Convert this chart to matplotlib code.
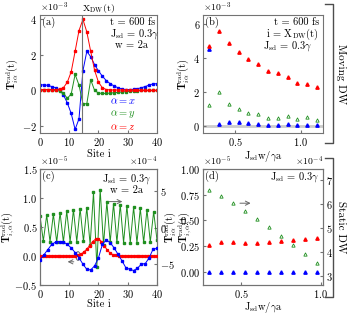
import numpy as np
import matplotlib
matplotlib.use("Agg")
import matplotlib.pyplot as plt
from matplotlib.lines import Line2D
from matplotlib.patches import Ellipse

plt.rcParams['font.family'] = ['cmr10', 'DejaVu Serif']
plt.rcParams['mathtext.fontset'] = 'cm'
plt.rcParams['axes.formatter.use_mathtext'] = True
plt.rcParams['font.size'] = 7.5
plt.rcParams['axes.edgecolor'] = '0.45'
plt.rcParams['xtick.direction'] = 'in'
plt.rcParams['ytick.direction'] = 'in'
plt.rcParams['xtick.major.size'] = 2.5
plt.rcParams['ytick.major.size'] = 2.5
plt.rcParams['xtick.major.pad'] = 2
plt.rcParams['ytick.major.pad'] = 2
plt.rcParams['xtick.color'] = '0.45'
plt.rcParams['ytick.color'] = '0.45'
plt.rcParams['xtick.labelcolor'] = 'black'
plt.rcParams['ytick.labelcolor'] = 'black'

# ---- panel (a): torque along the chain, moving DW (x 1e-3)
site_a = [0, 1.33, 2.67, 4, 5.33, 6.67, 8, 9.33, 10.67, 12, 13.33, 14.67, 16, 17.33,
          18.67, 20, 21.33, 22.67, 24, 25.33, 26.67, 28, 29.33, 30.67, 32, 33.33,
          34.67, 36, 37.33, 38.67, 40]
a_x = [0.3, 0.32, 0.28, 0.22, 0.15, 0.02, -0.25, -0.7, -1.3, -2.2, -1.6, 1.1, 2.2, 1.9,
       1.45, 1.1, 0.8, 0.55, 0.38, 0.25, 0.15, 0.08, 0.05, 0.05, 0.06, 0.1, 0.15, 0.22,
       0.3, 0.37, 0.38]
a_y = [0.05, 0.05, 0.04, 0.02, 0.0, -0.03, -0.15, -0.45, -0.2, 0.9, 0.3, -0.75, -0.75,
       0.6, 0.0, -0.15, -0.17, -0.17, -0.15, -0.13, -0.11, -0.09, -0.07, -0.05, -0.03,
       -0.02, 0.0, 0.0, 0.0, 0.0, 0.0]
a_z = [0.05, 0.05, 0.05, 0.05, 0.05, 0.07, 0.15, 0.46, 1.05, 2.2, 3.37, 4.0, 3.3, 2.2,
       1.13, 0.46, 0.15, 0.05, 0.03, 0.02, 0.02, 0.02, 0.01, 0.01, 0.01, 0.01, 0.0,
       0.0, 0.0, 0.0, 0.0]
x_dw = 14.5

# ---- panel (b): torque at DW centre vs Jsd w / gamma a (x 1e-3)
jw_b = [0.3, 0.375, 0.45, 0.525, 0.6, 0.675, 0.75, 0.825, 0.9, 0.975, 1.05, 1.125]
b_x = [4.56, 0.13, 0.22, 0.22, 0.17, 0.15, 0.1, 0.1, 0.13, 0.06, 0.1, 0.06]
b_y = [1.25, 2.02, 1.31, 1.0, 0.77, 0.71, 0.48, 0.48, 0.62, 0.44, 0.54, 0.38]
b_z = [4.75, 5.58, 4.9, 4.38, 3.94, 3.65, 3.27, 3.12, 2.92, 2.54, 2.46, 2.31]

# ---- panel (c): static DW, along the chain (x,z: x 1e-5 ; y: x 1e-4, right axis)
site_c = list(range(41))
c_z = [0, 0, 0, 0, 0, 0, 0, 0, 0, 0, 0, 0, 0, 0.01, 0.03, 0.07, 0.12, 0.18, 0.25, 0.29,
       0.3, 0.25, 0.18, 0.1, 0.05, 0.02, 0.01, 0, 0, 0, 0, 0, 0, 0, 0, 0, 0, 0, 0, 0, 0]
c_x = [-0.07, 0.02, 0.11, 0.2, 0.24, 0.25, 0.24, 0.2, 0.14, 0.06, -0.03, -0.14, -0.23,
       -0.24, -0.17, -0.03, 0.2, 0.28, 0.23, 0.14, 0.03, -0.08, -0.2, -0.23, -0.25,
       -0.21, -0.14, -0.13, -0.03, 0.12, 0.13]
site_cy = [0.0, 1.14, 2.29, 3.43, 4.57, 5.71, 6.86, 8.0, 9.14, 10.29, 11.43, 12.57,
           13.71, 14.86, 16.0, 17.14, 18.29, 19.43, 20.57, 21.71, 22.86, 24.0, 25.14,
           26.29, 27.43, 28.57, 29.71, 30.86, 32.0, 33.14, 34.29, 35.43, 36.57, 37.71,
           38.86, 40.0]
c_y = [1.6, -1.8, 1.7, -1.9, 1.85, -1.95, 2.05, -1.95, 2.25, -1.9, 2.45, -1.9, 2.6,
       -1.85, 2.75, -2.3, 4.8, -5.3, 5.2, -2.3, 3.5, -2.0, 3.3, -2.0, 3.15, -2.05, 2.95,
       -2.05, 2.8, -2.05, 2.65, -2.0, 2.45, -1.95, 2.2, -1.7]

# ---- panel (d): static DW vs Jsd w / gamma a (x,z: x 1e-5 ; y: x 1e-4, right axis)
jw_d = [0.3, 0.375, 0.45, 0.525, 0.6, 0.675, 0.75, 0.825, 0.9, 0.975]
d_x = [0.0, 0.0, 0.0, 0.0, 0.0, 0.0, 0.0, 0.0, 0.0, 0.0]
d_z = [0.26, 0.29, 0.29, 0.28, 0.28, 0.29, 0.30, 0.31, 0.32, 0.33]
d_y = [6.6, 6.33, 6.02, 5.72, 5.38, 5.02, 4.66, 4.29, 3.91, 3.55]

blue, green, red = '#0000ff', '#1f8f1f', '#ff0000'
ylab = r'$\mathbf{T}^{\rm rad}_{i\alpha}$(t)'
ylab_c = r'$\mathbf{T}^{\rm rad}_{i,\alpha}$(t)'
xlab_j = r'J$_{\rm sd}$w/$\gamma$a'

W, H = 347, 314
fig = plt.figure(figsize=(W / 100, H / 100), dpi=100)


def box(l, r, t, b):
    return [l / W, 1 - b / H, (r - l) / W, (b - t) / H]


def sci(ax, axis='y'):
    ax.ticklabel_format(style='sci', axis=axis, scilimits=(0, 0), useMathText=True)
    ax.yaxis.get_offset_text().set_fontsize(7)


ms_sq, ms_tri = 1.6, 2.4

# (a)
ax = fig.add_axes(box(40, 157, 15, 133))
s = 1e-3
ax.plot(site_a, np.array(a_x) * s, '-s', color=blue, ms=ms_sq, lw=0.7)
ax.plot(site_a, np.array(a_y) * s, '-s', color=green, ms=ms_sq, lw=0.7)
ax.plot(site_a, np.array(a_z) * s, '-s', color=red, ms=ms_sq, lw=0.7)
ax.axvline(x_dw, color='0.45', lw=0.8)
ax.set_xlim(0, 40)
ax.set_ylim(-2.4e-3, 4.25e-3)
ax.set_xticks([0, 10, 20, 30, 40])
ax.set_yticks([-2e-3, 0, 2e-3, 4e-3])
sci(ax)
ax.set_xlabel('Site i', labelpad=1)
ax.set_ylabel(ylab, labelpad=1)
ax.text(x_dw, 1.0, r'X$_{\rm DW}$(t)', transform=ax.get_xaxis_transform(),
        ha='left', va='bottom', fontsize=7)
ax.text(0.02, 0.985, '(a)', transform=ax.transAxes, va='top')
ax.text(0.6, 0.94, 't = 600 fs', transform=ax.transAxes, va='center')
ax.text(0.6, 0.84, r'J$_{\rm sd}$ = 0.3$\gamma$', transform=ax.transAxes, va='center')
ax.text(0.64, 0.745, 'w = 2a', transform=ax.transAxes, va='center')
ax.text(0.6, 0.27, r'$\alpha = x$', color=blue, transform=ax.transAxes, va='center')
ax.text(0.6, 0.165, r'$\alpha = y$', color=green, transform=ax.transAxes, va='center')
ax.text(0.6, 0.055, r'$\alpha = z$', color=red, transform=ax.transAxes, va='center')

# (b)
ax = fig.add_axes(box(203, 323, 15, 133))
ax.axhline(0, color='0.8', lw=2, zorder=0)
ax.plot(jw_b, np.array(b_x) * s, '^', color=blue, ms=ms_tri)
ax.plot(jw_b, np.array(b_y) * s, '^', mfc='none', mec=green, mew=0.6, ms=ms_tri)
ax.plot(jw_b, np.array(b_z) * s, '^', color=red, ms=ms_tri)
ax.set_xlim(0.252, 1.172)
ax.set_ylim(-0.4e-3, 6.55e-3)
ax.set_xticks([0.5, 1.0])
ax.set_yticks([0, 2e-3, 4e-3, 6e-3])
sci(ax)
ax.set_xlabel(xlab_j, labelpad=1)
ax.set_ylabel(ylab, labelpad=1)
ax.text(0.02, 0.985, '(b)', transform=ax.transAxes, va='top')
ax.text(0.97, 0.94, 't = 600 fs', transform=ax.transAxes, va='center', ha='right')
ax.text(0.97, 0.84, r'i = X$_{\rm DW}$(t)', transform=ax.transAxes, va='center', ha='right')
ax.text(0.91, 0.74, r'J$_{\rm sd}$ = 0.3$\gamma$', transform=ax.transAxes, va='center', ha='right')

# (c)
ax = fig.add_axes(box(40, 157, 169, 285))
axr = ax.twinx()
s5, s4 = 1e-5, 1e-4
axr.plot(site_cy, np.array(c_y) * s4, '-s', color=green, ms=ms_sq, lw=0.7)
ax.plot(site_c, np.array(c_z) * s5, '-s', color=red, ms=1.4, lw=0.7, zorder=3)
ax.plot(site_a, np.array(c_x) * s5, '-s', color=blue, ms=ms_sq, lw=0.7, zorder=3)
ax.set_zorder(axr.get_zorder() + 1)
ax.patch.set_visible(False)
ax.set_xlim(0, 40)
ax.set_ylim(-0.5e-5, 1.5e-5)
axr.set_ylim(-7.8e-4, 8.0e-4)
ax.set_xticks([0, 10, 20, 30, 40])
ax.set_yticks([-0.5e-5, 0, 0.5e-5, 1.0e-5, 1.5e-5])
axr.set_yticks([-5e-4, 0, 5e-4])
sci(ax)
sci(axr)
ax.set_xlabel('Site i', labelpad=0)
ax.set_ylabel(ylab_c)
ax.yaxis.set_label_coords(-0.2, 0.5)
axr.set_ylabel(ylab_c, labelpad=2)
ax.annotate('', xy=(8.5, -0.1e-5), xytext=(12.5, -0.1e-5),
            arrowprops=dict(arrowstyle='->', color='0.4', lw=0.7))
ax.add_patch(Ellipse((13.0, 0.0), 1.4, 0.15e-5, fill=False, ec='0.4', lw=0.7))
axr.annotate('', xy=(29.1, 3.56e-4), xytext=(22.6, 3.56e-4),
             arrowprops=dict(arrowstyle='->', color='0.4', lw=0.7))
ax.text(0.02, 0.985, '(c)', transform=ax.transAxes, va='top')
ax.text(0.74, 0.91, r'J$_{\rm sd}$ = 0.3$\gamma$', transform=ax.transAxes, va='center', ha='center')
ax.text(0.74, 0.815, 'w = 2a', transform=ax.transAxes, va='center', ha='center')

# (d)
ax = fig.add_axes(box(203, 323, 169, 285))
axr = ax.twinx()
axr.plot(jw_d, np.array(d_y) * s4, '^', mfc='none', mec=green, mew=0.6, ms=ms_tri)
ax.plot(jw_d, np.array(d_x) * s5, '^', color=blue, ms=ms_tri, zorder=3)
ax.plot(jw_d, np.array(d_z) * s5, '^', color=red, ms=ms_tri, zorder=3)
ax.set_zorder(axr.get_zorder() + 1)
ax.patch.set_visible(False)
ax.set_xlim(0.26, 1.015)
ax.set_ylim(-0.13e-5, 1.0e-5)
axr.set_ylim(2.61e-4, 7.46e-4)
ax.set_xticks([0.5, 1.0])
ax.set_yticks([0, 0.25e-5, 0.5e-5, 0.75e-5, 1.0e-5])
axr.set_yticks([3e-4, 4e-4, 5e-4, 6e-4, 7e-4])
sci(ax)
sci(axr)
ax.set_xlabel(xlab_j, labelpad=0)
ax.set_ylabel(ylab, labelpad=1)
axr.annotate('', xy=(0.577, 6.03e-4), xytext=(0.475, 6.03e-4),
             arrowprops=dict(arrowstyle='->', color='0.4', lw=0.7))
ax.text(0.02, 0.985, '(d)', transform=ax.transAxes, va='top')
ax.text(0.97, 0.93, r'J$_{\rm sd}$ = 0.3$\gamma$', transform=ax.transAxes, va='center', ha='right')

# side brackets
for top, bot, label in [(4, 143, 'Moving DW'), (158, 297, 'Static DW')]:
    xs = [325 / W, 333 / W, 333 / W, 325 / W]
    ys = [1 - top / H, 1 - top / H, 1 - bot / H, 1 - bot / H]
    fig.add_artist(Line2D(xs, ys, color='0.3', lw=1.0))
    fig.text(341 / W, 1 - (top + bot) / 2 / H, label, rotation=270,
             ha='center', va='center', fontsize=8)

fig.savefig('out.png', dpi=100)
